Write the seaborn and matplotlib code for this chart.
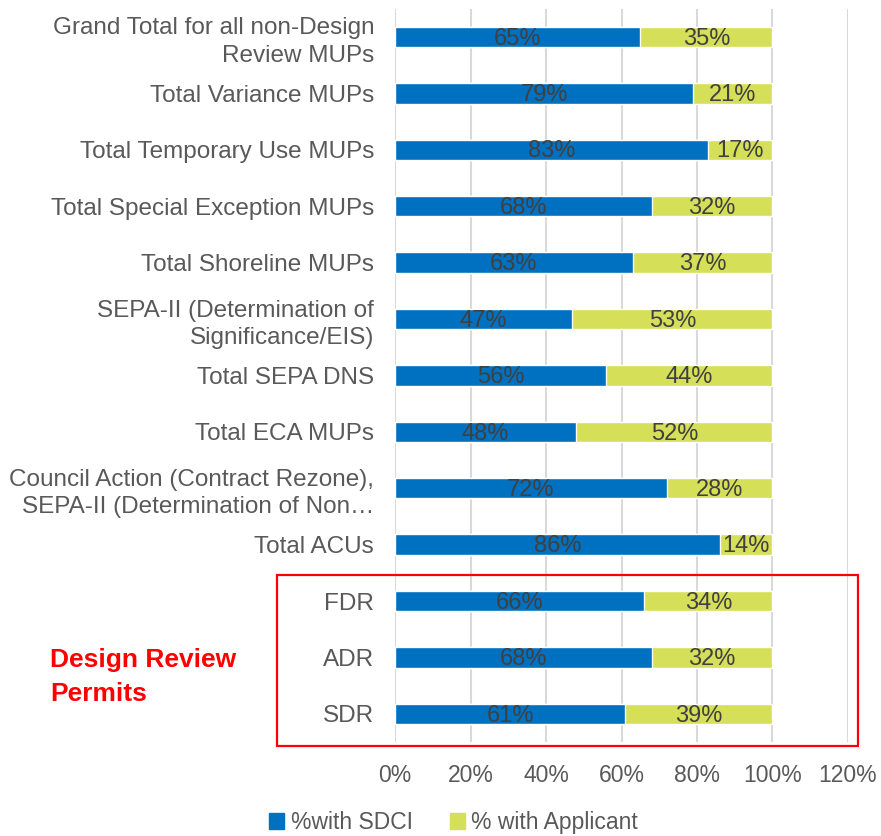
import numpy as np
import pandas as pd
import matplotlib.pyplot as plt
import seaborn as sns
from matplotlib.patches import Patch, Rectangle

# categories, top to bottom
categories = ["Grand Total for all non-Design\nReview MUPs",
              "Total Variance MUPs",
              "Total Temporary Use MUPs",
              "Total Special Exception MUPs",
              "Total Shoreline MUPs",
              "SEPA-II (Determination of\nSignificance/EIS)",
              "Total SEPA DNS",
              "Total ECA MUPs",
              "Council Action (Contract Rezone),\nSEPA-II (Determination of Non\u2026",
              "Total ACUs",
              "FDR",
              "ADR",
              "SDR"]
pct_sdci = [65, 79, 83, 68, 63, 47, 56, 48, 72, 86, 66, 68, 61]
pct_applicant = [35, 21, 17, 32, 37, 53, 44, 52, 28, 14, 34, 32, 39]
xticks = [0, 20, 40, 60, 80, 100, 120]

df = pd.DataFrame({"category": categories,
                   "sdci": np.array(pct_sdci) / 100,
                   "applicant": np.array(pct_applicant) / 100})
df["total"] = df["sdci"] + df["applicant"]

blue = "#0070C0"
green = "#D5DF58"

sns.set_style("white")
plt.rcParams["font.family"] = ["Liberation Sans", "DejaVu Sans"]

fig = plt.figure(figsize=(8.81, 8.36), dpi=100)
ax = fig.add_axes([0.4484, 0.1124, 0.5141, 0.8771])

# stacked bars: full length in green, SDCI share in blue on top
sns.barplot(data=df, x="total", y="category", color=green, width=0.36,
            saturation=1, orient="h", ax=ax, zorder=2)
sns.barplot(data=df, x="sdci", y="category", color=blue, width=0.36,
            saturation=1, orient="h", ax=ax, zorder=3)

for i, row in df.iterrows():
    ax.text(row["sdci"] / 2, i + 0.03, f"{row['sdci']:.0%}", ha="center", va="center",
            fontsize=17, color="#404040", zorder=4)
    ax.text(row["sdci"] + row["applicant"] / 2, i + 0.03, f"{row['applicant']:.0%}",
            ha="center", va="center", fontsize=17, color="#404040", zorder=4)

ax.set_xlim(0, 1.2)
ax.set_ylim(len(categories) - 0.5, -0.5)
ax.set_xticks([t / 100 for t in xticks])
ax.set_xticklabels([f"{t}%" for t in xticks])
ax.xaxis.grid(True, color="#D9D9D9", linewidth=1.5, zorder=0)
ax.set_axisbelow(True)
for s in ax.spines.values():
    s.set_visible(False)
ax.tick_params(axis="x", length=0, labelsize=16.5, labelcolor="#595959", pad=16)
ax.tick_params(axis="y", length=0, labelsize=17.5, labelcolor="#595959", pad=15)
for lbl in ax.get_yticklabels():
    lbl.set_linespacing(1.3)
ax.set_xlabel("")
ax.set_ylabel("")

# highlight design review permits
fig.patches.append(Rectangle((0.3144, 0.1077), 0.6595, 0.2045, transform=fig.transFigure,
                             fill=False, edgecolor="#FF0000", linewidth=1.6))
fig.text(0.057, 0.190, "Design Review\nPermits", color="#FF0000", fontsize=19,
         fontweight="bold", ha="left", va="center", linespacing=1.5)

handles = [Patch(color=blue, label="%with SDCI"),
           Patch(color=green, label="% with Applicant")]
fig.legend(handles=handles, loc="center", bbox_to_anchor=(0.515, 0.016), ncol=2,
           frameon=False, fontsize=16.5, handlelength=0.65, handleheight=0.65,
           handletextpad=0.3, columnspacing=1.6, labelcolor="#595959")

fig.savefig("out.png", dpi=100)
